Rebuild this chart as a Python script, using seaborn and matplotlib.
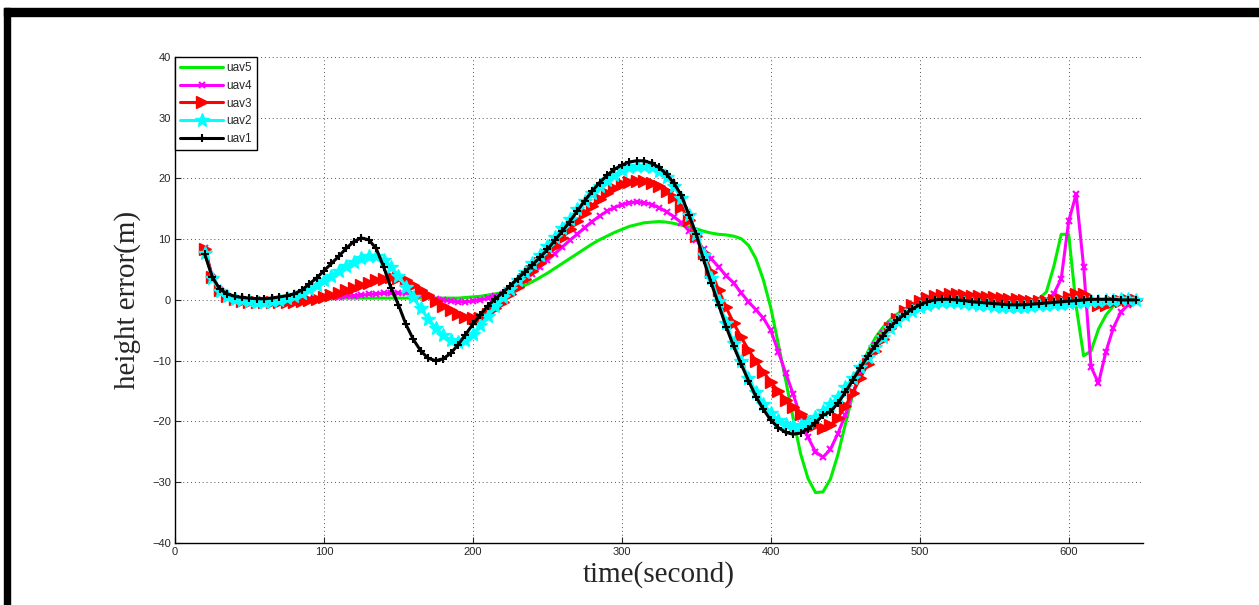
import matplotlib
matplotlib.use("Agg")
import matplotlib.pyplot as plt
import seaborn as sns
import numpy as np
from matplotlib.patches import Rectangle

# tempo (s), amostrado a cada 5 s
t = np.arange(20, 646, 5)

uav1 = [7.5, 3.8, 1.8, 1.0, 0.6, 0.4, 0.3, 0.2, 0.2, 0.3,
        0.5, 0.7, 1.0, 1.6, 2.6, 3.6, 4.8, 6.0, 7.2, 8.5,
        9.6, 10.2, 9.9, 8.5, 5.5, 2.0, -0.8, -4.0, -6.5, -8.4,
        -9.6, -10.0, -9.7, -8.8, -7.4, -5.7, -4.0, -2.4, -1.0, 0.2,
        1.2, 2.3, 3.5, 4.6, 5.8, 7.0, 8.3, 9.8, 11.3, 12.9,
        14.6, 16.3, 17.9, 19.3, 20.5, 21.5, 22.2, 22.7, 22.9, 22.9,
        22.5, 21.8, 20.7, 19.2, 17.2, 14.0, 10.8, 6.5, 2.8, -0.8,
        -4.4, -7.6, -10.5, -13.3, -15.9, -18.0, -19.8, -21.0, -21.8, -22.1,
        -21.9, -21.2, -20.2, -19.0, -18.4, -17.0, -15.2, -13.2, -11.2, -9.3,
        -7.5, -5.9, -4.5, -3.3, -2.3, -1.5, -0.8, -0.3, 0.0, 0.1,
        0.1, 0.0, -0.1, -0.3, -0.4, -0.5, -0.6, -0.7, -0.8, -0.8,
        -0.8, -0.7, -0.6, -0.5, -0.4, -0.3, -0.2, -0.1, 0.0, 0.1,
        0.1, 0.1, 0.1, 0.0, 0.0, 0.0]

uav2 = [7.8, 3.6, 1.5, 0.6, 0.2, 0.0, -0.2, -0.3, -0.3, -0.2,
        0.0, 0.3, 0.7, 1.2, 1.8, 2.5, 3.2, 4.0, 4.8, 5.6,
        6.3, 6.9, 7.2, 7.2, 6.6, 5.5, 4.0, 2.2, 0.4, -1.4,
        -3.1, -4.6, -5.8, -6.6, -6.9, -6.6, -5.6, -4.2, -2.6, -1.0,
        0.4, 1.8, 3.2, 4.6, 6.0, 7.4, 8.9, 10.4, 11.9, 13.4,
        14.9, 16.3, 17.6, 18.8, 19.8, 20.6, 21.3, 21.8, 22.1, 22.1,
        21.8, 21.2, 20.2, 18.7, 16.7, 14.0, 10.9, 7.4, 3.6, -0.2,
        -3.8, -7.1, -10.1, -12.8, -15.2, -17.1, -18.6, -19.7, -20.4, -20.7,
        -20.6, -20.1, -19.3, -18.3, -17.2, -15.9, -14.4, -12.8, -11.1, -9.4,
        -7.7, -6.1, -4.7, -3.5, -2.5, -1.8, -1.2, -0.8, -0.5, -0.4,
        -0.3, -0.4, -0.5, -0.7, -0.8, -0.9, -1.0, -1.1, -1.1, -1.1,
        -1.1, -1.0, -0.9, -0.8, -0.7, -0.6, -0.5, -0.4, -0.3, -0.2,
        -0.1, 0.0, 0.0, 0.1, 0.1, 0.0]

uav3 = [8.4, 3.8, 1.6, 0.6, 0.1, -0.2, -0.3, -0.4, -0.4, -0.4,
        -0.4, -0.3, -0.3, -0.2, 0.0, 0.2, 0.5, 0.8, 1.2, 1.6,
        2.0, 2.4, 2.8, 3.2, 3.5, 3.7, 3.6, 3.2, 2.5, 1.7,
        0.8, -0.1, -1.0, -1.7, -2.3, -2.8, -3.0, -2.9, -2.3, -1.4,
        -0.3, 0.9, 2.1, 3.4, 4.7, 6.0, 7.4, 8.8, 10.2, 11.6,
        13.0, 14.3, 15.5, 16.6, 17.6, 18.4, 19.0, 19.4, 19.6, 19.6,
        19.3, 18.8, 18.0, 16.9, 15.3, 13.2, 10.6, 7.7, 4.6, 1.6,
        -1.2, -3.8, -6.1, -8.2, -10.1, -11.8, -13.5, -15.0, -16.4, -17.7,
        -18.8, -19.8, -20.6, -21.0, -20.6, -19.4, -17.5, -15.3, -12.9, -10.6,
        -8.4, -6.4, -4.6, -3.1, -1.9, -0.9, -0.2, 0.3, 0.6, 0.8,
        0.9, 0.9, 0.8, 0.7, 0.6, 0.5, 0.4, 0.3, 0.2, 0.1,
        0.0, -0.1, -0.1, -0.1, 0.0, 0.1, 0.4, 0.9, 0.9, -0.2,
        -0.9, -0.8, -0.4, -0.1, 0.0, 0.0]

uav4 = [8.5, 3.8, 1.6, 0.6, 0.1, -0.1, -0.2, -0.2, -0.2, -0.2,
        -0.1, -0.1, 0.0, 0.0, 0.1, 0.2, 0.3, 0.4, 0.5, 0.6,
        0.7, 0.8, 0.9, 1.0, 1.1, 1.1, 1.1, 1.1, 1.0, 0.8,
        0.5, 0.2, 0.0, -0.2, -0.3, -0.3, -0.2, 0.0, 0.3, 0.7,
        1.0, 1.6, 2.4, 3.3, 4.3, 5.4, 6.5, 7.6, 8.7, 9.8,
        10.8, 11.9, 12.9, 13.8, 14.6, 15.2, 15.7, 16.0, 16.1, 16.0,
        15.7, 15.2, 14.5, 13.7, 12.7, 11.4, 9.9, 8.3, 6.8, 5.4,
        4.0, 2.8, 1.2, -0.3, -1.6, -3.0, -5.0, -8.5, -12.0, -15.5,
        -19.2, -22.6, -25.0, -25.9, -24.6, -22.0, -19.0, -15.3, -12.3, -9.6,
        -7.4, -5.5, -4.0, -2.8, -1.9, -1.2, -0.6, -0.2, 0.1, 0.3,
        0.4, 0.4, 0.3, 0.2, 0.1, 0.0, -0.1, -0.2, -0.3, -0.3,
        -0.3, -0.3, -0.2, 0.0, 1.0, 3.5, 13.0, 17.4, 5.5, -11.0,
        -13.7, -8.5, -4.6, -2.0, -0.8, -0.2]

uav5 = [8.2, 3.7, 1.5, 0.6, 0.2, 0.0, -0.1, -0.1, -0.1, 0.0,
        0.0, 0.0, 0.1, 0.1, 0.1, 0.2, 0.2, 0.2, 0.3, 0.3,
        0.3, 0.3, 0.3, 0.3, 0.3, 0.3, 0.3, 0.3, 0.3, 0.3,
        0.3, 0.3, 0.3, 0.3, 0.3, 0.4, 0.5, 0.6, 0.8, 1.0,
        1.2, 1.5, 1.9, 2.4, 3.0, 3.7, 4.4, 5.2, 6.0, 6.8,
        7.6, 8.4, 9.2, 9.9, 10.5, 11.1, 11.6, 12.1, 12.4, 12.7,
        12.8, 12.9, 12.8, 12.6, 12.3, 12.0, 11.7, 11.3, 11.0, 10.8,
        10.7, 10.5, 10.1, 9.0, 6.8, 3.3, -1.3, -7.2, -13.2, -19.5,
        -25.3, -29.4, -31.7, -31.6, -29.5, -25.5, -20.5, -15.6, -11.6, -8.6,
        -6.3, -4.6, -3.3, -2.3, -1.5, -0.9, -0.4, 0.0, 0.2, 0.3,
        0.3, 0.2, 0.1, 0.0, -0.1, -0.2, -0.3, -0.3, -0.3, -0.3,
        -0.2, -0.1, 0.2, 1.3, 5.5, 10.8, 10.8, -1.0, -9.2, -8.4,
        -4.8, -2.5, -1.0, -0.3, 0.0, 0.0]

labels = ["uav5", "uav4", "uav3", "uav2", "uav1"]
cores = ["#00ee00", "#ff00ff", "#ff0000", "#00ffff", "#000000"]
marcadores = [None, "x", ">", "*", "+"]
tamanhos = [0, 5, 8, 10, 6]
bordas = [0, 1.5, 1.0, 1.0, 1.5]

sns.set_style("ticks")
plt.rcParams['font.family'] = ['Liberation Sans', 'DejaVu Sans']

fig = plt.figure(figsize=(12.59, 6.05), dpi=100)
ax = fig.add_axes([0.139, 0.1025, 0.769, 0.8035])

for nome, serie, cor, mk, ms, mew in zip(labels, [uav5, uav4, uav3, uav2, uav1], cores, marcadores, tamanhos, bordas):
    kws = dict(linewidth=2.2)
    if mk is not None:
        kws.update(marker=mk, markersize=ms, markeredgewidth=mew, markeredgecolor=cor, markerfacecolor=cor)
    sns.lineplot(x=t, y=serie, ax=ax, color=cor, label=nome, estimator=None, sort=False, **kws)

# eixos
ax.set_xlim(0, 650)
ax.set_ylim(-40, 40)
ax.set_xticks(range(0, 601, 100))
ax.set_yticks(range(-40, 41, 10))
ax.grid(True, linestyle=(0, (1, 3)), color="#555555", linewidth=0.7)
ax.tick_params(direction="in", length=4, width=0.8, labelsize=8, pad=3)
ax.spines["top"].set_visible(False)
ax.spines["right"].set_visible(False)
for s in ["left", "bottom"]:
    ax.spines[s].set_linewidth(1.0)
    ax.spines[s].set_color("black")

ax.set_xlabel("time(second)", fontsize=21, family="Liberation Serif", labelpad=3)
ax.set_ylabel("height error(m)", fontsize=21, family="Liberation Serif", labelpad=8)

# legenda
leg = ax.legend(loc="upper left", borderaxespad=0, fontsize=8.5, fancybox=False, framealpha=1,
                edgecolor="black", handlelength=3.6, labelspacing=0.48, borderpad=0.45, handletextpad=0.3)
leg.get_frame().set_linewidth(1.0)

# moldura da captura
fig.add_artist(Rectangle((0.0032, 0), 0.0048, 0.986, transform=fig.transFigure, color="black"))
fig.add_artist(Rectangle((0.0032, 0.974), 0.9968, 0.012, transform=fig.transFigure, color="black"))

fig.savefig("out.png", dpi=100)
